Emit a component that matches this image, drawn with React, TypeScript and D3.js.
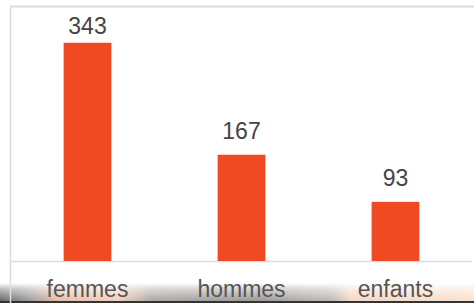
import { useEffect, useRef } from "react";
import * as d3 from "d3";

const categories = ["femmes", "hommes", "enfants"];
const values = [343, 167, 93];
const yMax = 400;

const W = 474;
const H = 303;

export default function App() {
  const svgRef = useRef<SVGSVGElement>(null);

  useEffect(() => {
    const svg = d3.select(svgRef.current);
    svg.selectAll("*").remove();

    const x = d3
      .scaleBand()
      .domain(categories)
      .range([10.5, 472.5])
      .paddingInner(0.69)
      .paddingOuter(0.345);

    const y = d3.scaleLinear().domain([0, yMax]).range([261, 6.5]);

    const defs = svg.append("defs");
    // blurry photo strip showing under the screenshot bottom
    const hg = defs.append("linearGradient").attr("id", "strip");
    [
      [0, "#666"],
      [0.06, "#999"],
      [0.12, "#e5b9a5"],
      [0.25, "#f0cfbd"],
      [0.32, "#aaa6a3"],
      [0.55, "#9a9896"],
      [0.7, "#bdb8b4"],
      [0.74, "#f4d6c0"],
      [1, "#f9e0cc"],
    ].forEach(([o, c]) => hg.append("stop").attr("offset", o as number).attr("stop-color", c as string));
    const vg = defs
      .append("linearGradient")
      .attr("id", "fade")
      .attr("x1", 0)
      .attr("x2", 0)
      .attr("y1", 0)
      .attr("y2", 1);
    vg.append("stop").attr("offset", 0).attr("stop-color", "#fff").attr("stop-opacity", 1);
    vg.append("stop").attr("offset", 0.3).attr("stop-color", "#fff").attr("stop-opacity", 0.6);
    vg.append("stop").attr("offset", 1).attr("stop-color", "#fff").attr("stop-opacity", 0);

    svg.append("rect").attr("x", 0).attr("y", 283).attr("width", W).attr("height", 18).attr("fill", "url(#strip)");
    svg.append("rect").attr("x", 0).attr("y", 283).attr("width", W).attr("height", 18).attr("fill", "url(#fade)");
    svg.append("rect").attr("x", 0).attr("y", 301).attr("width", W).attr("height", 2).attr("fill", "#333");

    // frame lines
    svg.append("line").attr("x1", 10).attr("x2", W).attr("y1", 6.5).attr("y2", 6.5)
      .attr("stroke", "#dcdcdc").attr("stroke-width", 2);
    svg.append("line").attr("x1", 10.5).attr("x2", 10.5).attr("y1", 6).attr("y2", H)
      .attr("stroke", "#dcdcdc").attr("stroke-width", 1.5);
    svg.append("line").attr("x1", 11).attr("x2", 472).attr("y1", 261.5).attr("y2", 261.5)
      .attr("stroke", "#dcdcdc").attr("stroke-width", 1.5);

    // bars
    svg
      .selectAll(".bar")
      .data(values)
      .enter()
      .append("rect")
      .attr("class", "bar")
      .attr("x", (d, i) => x(categories[i]))
      .attr("width", x.bandwidth())
      .attr("y", (d) => y(d))
      .attr("height", (d) => y(0) - y(d))
      .attr("fill", "#f04a24");

    // value labels
    svg
      .selectAll(".val")
      .data(values)
      .enter()
      .append("text")
      .attr("class", "val")
      .attr("x", (d, i) => x(categories[i]) + x.bandwidth() / 2)
      .attr("y", (d) => Math.max(y(d) - 16, 34))
      .attr("text-anchor", "middle")
      .style("font-family", "'Liberation Sans', Arial, sans-serif")
      .style("font-size", "23px")
      .attr("fill", "#444")
      .text((d) => d);

    // category labels
    svg
      .selectAll(".cat")
      .data(categories)
      .enter()
      .append("text")
      .attr("class", "cat")
      .attr("x", (d) => x(d) + x.bandwidth() / 2)
      .attr("y", 297)
      .attr("text-anchor", "middle")
      .style("font-family", "'Liberation Sans', Arial, sans-serif")
      .style("font-size", "23px")
      .attr("fill", "#555")
      .text((d) => d);
  }, []);

  return (
    <svg
      ref={svgRef}
      width={W}
      height={H}
      style={{ position: "absolute", left: 0, top: 0, background: "#fff" }}
    ></svg>
  );
}
